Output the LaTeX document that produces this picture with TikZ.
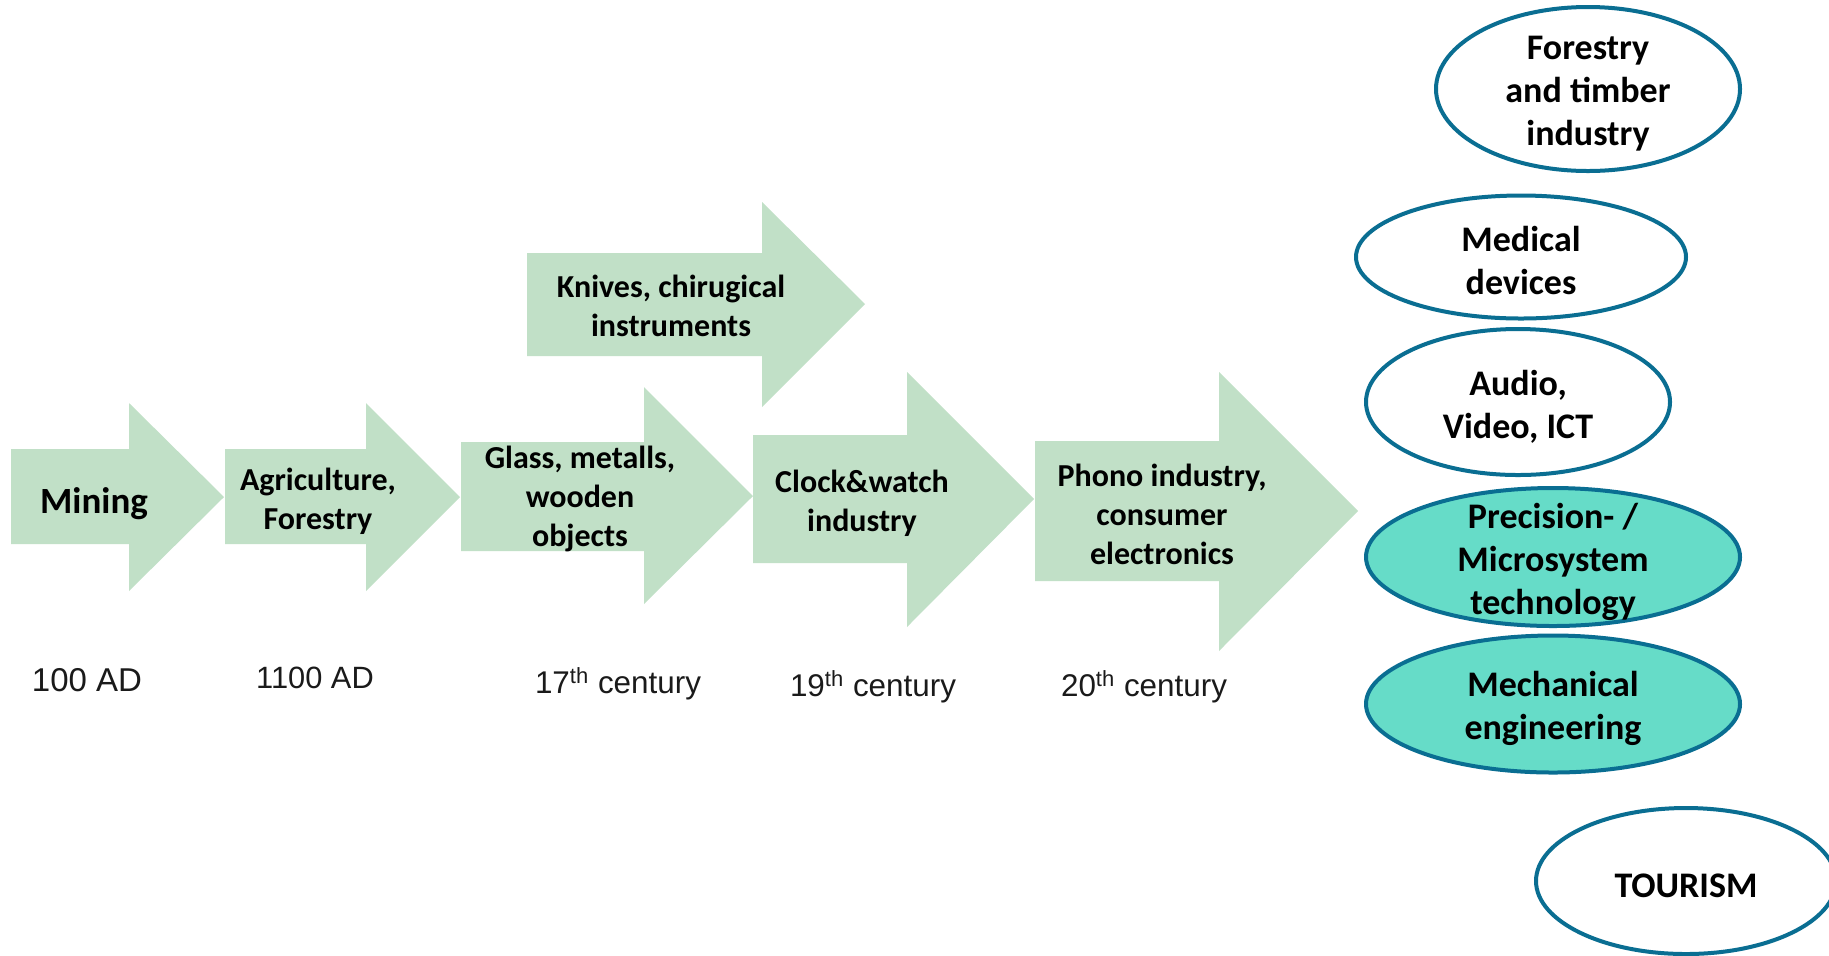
\documentclass[tikz,border=0pt]{standalone}
\usepackage{fontspec}
\setmainfont{Carlito}
\newfontfamily\arialf{Liberation Sans}
\usetikzlibrary{shapes.geometric}
\definecolor{arrowgreen}{HTML}{C1E0C7}
\definecolor{ovalfill}{HTML}{66DCC8}
\definecolor{ovalline}{HTML}{0A6E92}
\definecolor{datecol}{HTML}{1A1A1A}
\tikzset{
  arrowbody/.style={fill=arrowgreen},
  atext/.style={align=center, inner sep=0pt, font=\bfseries\fontsize{16}{19.5}\selectfont},
  otext/.style={align=center, inner sep=0pt, font=\bfseries\fontsize{18}{21.5}\selectfont},
  oval/.style={ellipse, draw=ovalline, line width=2pt, inner sep=0pt},
  plainoval/.style={oval, fill=white},
  tealoval/.style={oval, fill=ovalfill},
  datetext/.style={inner sep=0pt, text=datecol, font=\arialf\fontsize{15.7}{18}\selectfont},
}
\begin{document}
\begin{tikzpicture}[x=0.5pt, y=-0.5pt]
\clip (0,0) rectangle (1829,955);
\fill[white] (0,0) rectangle (1829,955);

% block arrows
\fill[arrowbody] (11,449) -- (129,449) -- (129,403) -- (224,497) -- (129,591) -- (129,544) -- (11,544) -- cycle;
\fill[arrowbody] (225,449) -- (366,449) -- (366,403) -- (460,497) -- (366,591) -- (366,544) -- (225,544) -- cycle;
\fill[arrowbody] (461,442) -- (644,442) -- (644,387) -- (753,496) -- (644,604) -- (644,551) -- (461,551) -- cycle;
\fill[arrowbody] (527,253) -- (762,253) -- (762,202) -- (865,304) -- (762,407) -- (762,356) -- (527,356) -- cycle;
\fill[arrowbody] (753,435) -- (907,435) -- (907,372) -- (1034,499) -- (907,627) -- (907,563) -- (753,563) -- cycle;
\fill[arrowbody] (1035,441) -- (1219,441) -- (1219,372) -- (1358,511) -- (1219,651) -- (1219,581) -- (1035,581) -- cycle;

% arrow labels
\node[atext, font=\bfseries\fontsize{18.5}{22}\selectfont] (mining) at (94,504) {Mining};
\node[atext] (agri) at (318,501) {Agriculture,\\Forestry};
\node[atext] (glass) at (580,499) {Glass, metalls,\\wooden\\objects};
\node[atext] (knives) at (671,306) {Knives, chirugical\\instruments};
\node[atext] (clock) at (862,503) {Clock\&watch\\industry};
\node[atext] (phono) at (1162,514) {Phono industry,\\consumer\\electronics};

% dates
\node[datetext, font=\arialf\fontsize{16.5}{18}\selectfont] (d1) at (87,680) {100 AD};
\node[datetext, font=\arialf\fontsize{15.4}{18}\selectfont] (d2) at (315,678) {1100 AD};
\node[datetext] (d3) at (618,684) {17\textsuperscript{th} century};
\node[datetext] (d4) at (873,687) {19\textsuperscript{th} century};
\node[datetext] (d5) at (1144,687) {20\textsuperscript{th} century};

% ovals
\node[plainoval, minimum width=152pt, minimum height=82pt] (forest) at (1588,89) {};
\node[otext] at ([yshift=-2.3pt]forest.center) {Forestry\\and timber\\industry};
\node[plainoval, minimum width=165pt, minimum height=61.5pt] (medical) at (1521,257) {};
\node[otext] at ([yshift=-1.5pt]medical.center) {Medical\\devices};
\node[plainoval, minimum width=152pt, minimum height=73pt] (audio) at (1518,402) {};
\node[otext] at ([yshift=-2.3pt]audio.center) {Audio,\\Video, ICT};
\node[tealoval, minimum width=187pt, minimum height=69pt] (prec) at (1553,557) {};
\node[otext] at ([yshift=-2.5pt]prec.center) {Precision- /\\Microsystem\\technology};
\node[tealoval, minimum width=187pt, minimum height=68.5pt] (mech) at (1553,704) {};
\node[otext] at ([yshift=-2pt]mech.center) {Mechanical\\engineering};
\node[plainoval, minimum width=150pt, minimum height=73pt] (tour) at (1686,881) {};
\node[otext] at ([yshift=-2.3pt]tour.center) {TOURISM};
\end{tikzpicture}
\end{document}
